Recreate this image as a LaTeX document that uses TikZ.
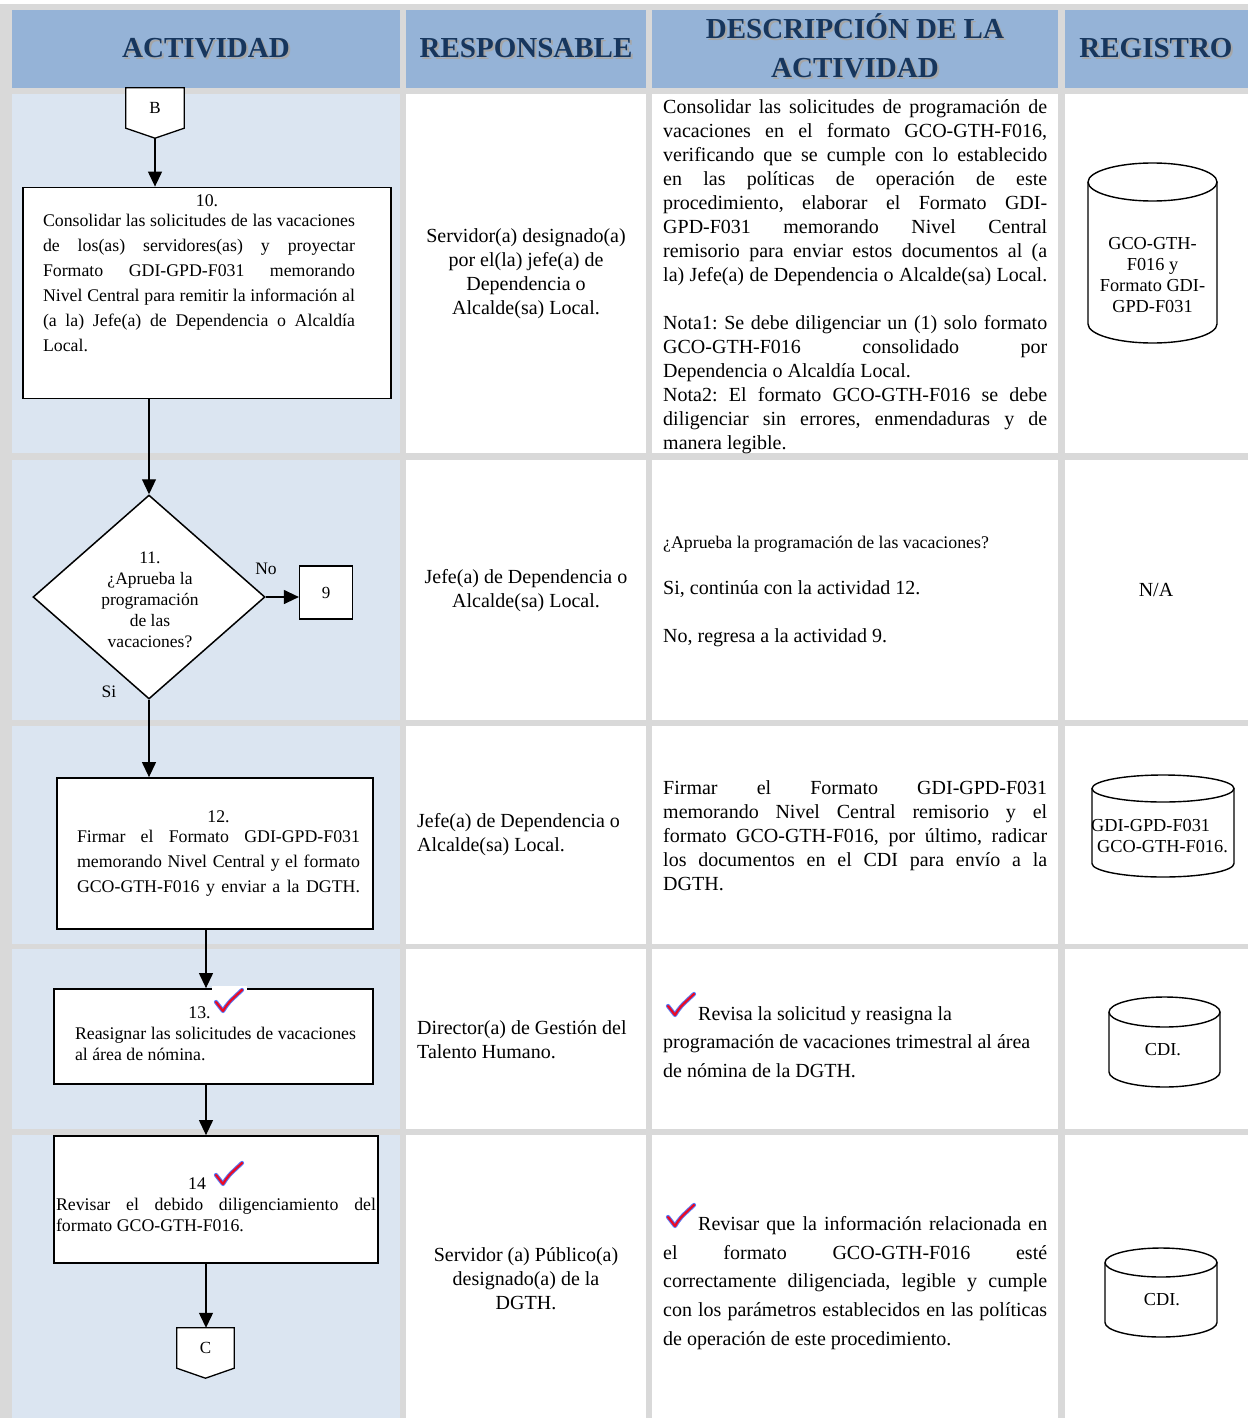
\documentclass[tikz,border=0pt]{standalone}
\usepackage{fontspec}
\setmainfont{Liberation Serif}
\usetikzlibrary{arrows.meta,positioning,calc,shapes.geometric}
\definecolor{hdrblue}{RGB}{149,179,215}
\definecolor{actblue}{RGB}{219,229,241}
\definecolor{gridgray}{RGB}{217,217,217}
\definecolor{navy}{RGB}{23,54,93}
\definecolor{chkblue}{RGB}{90,120,245}
\definecolor{chkred}{RGB}{235,10,35}
% justified line of a given width
\newcommand{\jl}[2]{\makebox[#1pt][s]{#2}}
% record cylinder: cx, top, bottom, half width, ry
\newcommand{\cyl}[5]{%
  \draw[cylline] (#1,#2+#5) ellipse[x radius=#4, y radius=#5];
  \draw[cylline] (#1-#4,#2+#5) -- (#1-#4,#3-#5) arc[start angle=180, end angle=0, x radius=#4, y radius=#5] -- (#1+#4,#2+#5);
}

\begin{document}
\frenchspacing
\begin{tikzpicture}[
  x=1pt, y=-1pt,
  font=\fontsize{20}{24}\selectfont,
  hdr/.style={font=\fontsize{29}{39}\selectfont\bfseries, text=navy, align=center},
  hdrshadow/.style={hdr, text=black!35},
  box/.style={draw, line width=1.8pt, fill=white, inner sep=0pt},
  boxtext/.style={font=\fontsize{17.8}{25}\selectfont, align=left, inner sep=0pt, anchor=north},
  dec/.style={diamond, draw, line width=1.5pt, fill=white, inner sep=0pt},
  conn/.style={fill=white, inner sep=0pt, font=\fontsize{17}{20}\selectfont},
  connline/.style={line width=1.3pt, line join=miter},
  flow/.style={line width=1.2pt, -{Triangle[width=14pt,length=15pt]}},
  lbl/.style={inner sep=0pt, font=\fontsize{17.5}{20}\selectfont},
  resp/.style={align=center, inner sep=0pt},
  respl/.style={align=left, inner sep=0pt, anchor=west},
  desc/.style={align=left, inner sep=0pt, anchor=north west},
  cylline/.style={line width=1.4pt},
  cyltext/.style={align=center, inner sep=0pt, font=\fontsize{18.3}{21}\selectfont},
  chk/.pic={
    \draw[chkblue, line width=4.2pt, line cap=round, line join=round] (0,0) -- (7,9) .. controls (12,1) .. (26,-12);
    \draw[chkred, line width=2.2pt, line cap=round, line join=round] (0,0) -- (7,9) .. controls (12,1) .. (26,-12);
  }
]
\useasboundingbox (0,0) rectangle (1248,1418);
\fill[gridgray] (0,0) rectangle (1248,1418);
\fill[white] (0,0) rectangle (1248,4);
% header cells
\foreach \xa/\xb in {12/400,406/646,652/1058,1065/1248}
  \fill[hdrblue] (\xa,10) rectangle (\xb,88);
% body cells
\foreach \ya/\yb in {94/453,460/720,726/944,949/1129,1135/1418} {
  \fill[actblue] (12,\ya) rectangle (400,\yb);
  \foreach \xa/\xb in {406/646,652/1058,1065/1248}
    \fill[white] (\xa,\ya) rectangle (\xb,\yb);
}
% header texts
\foreach \i/\cx/\cy/\txt in {1/206/48/ACTIVIDAD, 2/526/48/RESPONSABLE, 3/855/46/{DESCRIPCIÓN DE LA\\ACTIVIDAD}, 4/1156/48/REGISTRO} {
  \node[hdrshadow] (hs\i) at (\cx+2,\cy+2) {\txt};
  \node[hdr] (hd\i) at (\cx,\cy) {\txt};
}

% ---- flow ----
\node[conn, minimum width=58, minimum height=40] (cB) at (155,108) {B};
\fill[white] (cB.south west) -- ($(cB.south)+(0,10)$) coordinate (cBtip) -- (cB.south east) -- cycle;
\draw[connline] (cB.north west) -- (cB.north east) -- (cB.south east) -- (cBtip) -- (cB.south west) -- cycle;

\node[box, minimum width=368, minimum height=211] (b10) at (207,293) {};
\node[boxtext] (t10) at (199,194) {%
  \makebox[312pt]{\hspace{16pt}10.}\\[-5pt]
  \jl{312}{Consolidar las solicitudes de las vacaciones}\\
  \jl{312}{de los(as) servidores(as) y proyectar}\\
  \jl{312}{Formato GDI-GPD-F031 memorando}\\
  \jl{312}{Nivel Central para remitir la información al}\\
  \jl{312}{(a la) Jefe(a) de Dependencia o Alcaldía}\\
  Local.};

\node[dec, minimum width=232, minimum height=204] (d11) at (149,597) {};
\node[resp, font=\fontsize{17.5}{21}\selectfont] (t11) at (150,600)
  {11.\\¿Aprueba la\\programación\\de las\\vacaciones?};
\node[lbl] (lno) at (266,569) {No};
\node[lbl] (lsi) at (109,692) {Si};
\node[box, line width=1.2pt, minimum width=53, minimum height=53, font=\fontsize{17}{20}\selectfont] (n9) at (326,592.5) {9};

\node[box, minimum width=316, minimum height=151] (b12) at (215,853.5) {};
\node[boxtext] (t12) at (218.5,811) {%
  \makebox[283pt]{12.}\\[-5pt]
  \jl{283}{Firmar el Formato GDI-GPD-F031}\\
  \jl{283}{memorando Nivel Central y el formato}\\
  \jl{283}{GCO-GTH-F016 y enviar a la DGTH.}};

\node[box, minimum width=319, minimum height=95] (b13) at (213.5,1036.5) {};
\fill[white] (212,986) rectangle (247,1016);
\node[boxtext, font=\fontsize{17.8}{21}\selectfont] (t13) at (215.5,1007) {%
  \makebox[281pt]{13.\hspace{32pt}}\\
  \jl{281}{Reasignar las solicitudes de vacaciones}\\
  al área de nómina.};
\pic at (216,1002) {chk};

\node[box, minimum width=324, minimum height=127] (b14) at (216,1199.5) {};
\node[boxtext, font=\fontsize{17.8}{21}\selectfont] (t14) at (216,1178) {%
  \makebox[320pt]{14\hspace{38pt}}\\
  \jl{320}{Revisar el debido diligenciamiento del}\\
  formato GCO-GTH-F016.};
\pic at (216,1175) {chk};

\node[conn, minimum width=57, minimum height=40] (cC) at (205.5,1348) {C};
\fill[white] (cC.south west) -- ($(cC.south)+(0,10)$) coordinate (cCtip) -- (cC.south east) -- cycle;
\draw[connline] (cC.north west) -- (cC.north east) -- (cC.south east) -- (cCtip) -- (cC.south west) -- cycle;

% connectors
\coordinate (lane) at (206,0);
\draw[flow] (cBtip) -- (cBtip |- b10.north);
\draw[flow] (b10.south -| d11.north) -- (d11.north);
\draw[flow] (d11.east) -- (d11.east -| n9.west);
\draw[flow] (d11.south) -- (d11.south |- b12.north);
\draw[flow] (b12.south -| lane) -- (b13.north -| lane);
\draw[flow] (b13.south -| lane) -- (b14.north -| lane);
\draw[flow] (b14.south -| lane) -- (cC.north -| lane);

% ---- responsable ----
\node[resp] (r1) at (526,274) {Servidor(a) designado(a)\\por el(la) jefe(a) de\\Dependencia o\\Alcalde(sa) Local.};
\node[resp] (r2) at (526,591) {Jefe(a) de Dependencia o\\Alcalde(sa) Local.};
\node[respl] (r3) at (417,835) {Jefe(a) de Dependencia o\\Alcalde(sa) Local.};
\node[respl] (r4) at (417,1040) {Director(a) de Gestión del\\Talento Humano.};
\node[resp] (r5) at (526,1279) {Servidor (a) Público(a)\\designado(a) de la\\DGTH.};

% ---- descripcion ----
\node[desc] (s1) at (663,99) {%
  \jl{384}{Consolidar las solicitudes de programación de}\\
  \jl{384}{vacaciones en el formato GCO-GTH-F016,}\\
  \jl{384}{verificando que se cumple con lo establecido}\\
  \jl{384}{en las políticas de operación de este}\\
  \jl{384}{procedimiento, elaborar el Formato GDI-}\\
  \jl{384}{GPD-F031 memorando Nivel Central}\\
  \jl{384}{remisorio para enviar estos documentos al (a}\\
  \jl{384}{la) Jefe(a) de Dependencia o Alcalde(sa) Local.}\\[24pt]
  \jl{384}{Nota1: Se debe diligenciar un (1) solo formato}\\
  \jl{384}{GCO-GTH-F016 consolidado por}\\
  Dependencia o Alcaldía Local.\\
  \jl{384}{Nota2: El formato GCO-GTH-F016 se debe}\\
  \jl{384}{diligenciar sin errores, enmendaduras y de}\\
  manera legible.};
\node[desc] (s2) at (663,536) {%
  {\fontsize{17.8}{24}\selectfont ¿Aprueba la programación de las vacaciones?}\\[22pt]
  Si, continúa con la actividad 12.\\[24pt]
  No, regresa a la actividad 9.};
\node[desc] (s3) at (663,780) {%
  \jl{384}{Firmar el Formato GDI-GPD-F031}\\
  \jl{384}{memorando Nivel Central remisorio y el}\\
  \jl{384}{formato GCO-GTH-F016, por último, radicar}\\
  \jl{384}{los documentos en el CDI para envío a la}\\
  DGTH.};
\node[desc, font=\fontsize{20}{28.5}\selectfont] (s4) at (663,1006) {%
  \hspace*{35pt}Revisa la solicitud y reasigna la\\
  programación de vacaciones trimestral al área\\
  de nómina de la DGTH.};
\pic at (668,1006) {chk};
\node[desc, font=\fontsize{20}{28.75}\selectfont] (s5) at (663,1216) {%
  \hspace*{35pt}\jl{349}{Revisar que la información relacionada en}\\
  \jl{384}{el formato GCO-GTH-F016 esté}\\
  \jl{384}{correctamente diligenciada, legible y cumple}\\
  \jl{384}{con los parámetros establecidos en las políticas}\\
  de operación de este procedimiento.};
\pic at (668,1217) {chk};

% ---- registro ----
\cyl{1152.5}{163}{343}{64.5}{19}
\node[cyltext] (k1) at (1152.5,275) {GCO-GTH-\\F016 y\\Formato GDI-\\GPD-F031};
\node[resp] (k2) at (1156,590) {N/A};
\cyl{1163}{775}{877}{71}{13.5}
\node[cyltext, align=left, anchor=west] (k3) at (1091,836) {GDI-GPD-F031\\\hspace*{6pt}GCO-GTH-F016.};
\cyl{1164.5}{997}{1087}{55.5}{15}
\node[cyltext] (k4) at (1163,1050) {CDI.};
\cyl{1161}{1248}{1337}{56}{14.5}
\node[cyltext] (k5) at (1162,1300) {CDI.};
\end{tikzpicture}
\end{document}
